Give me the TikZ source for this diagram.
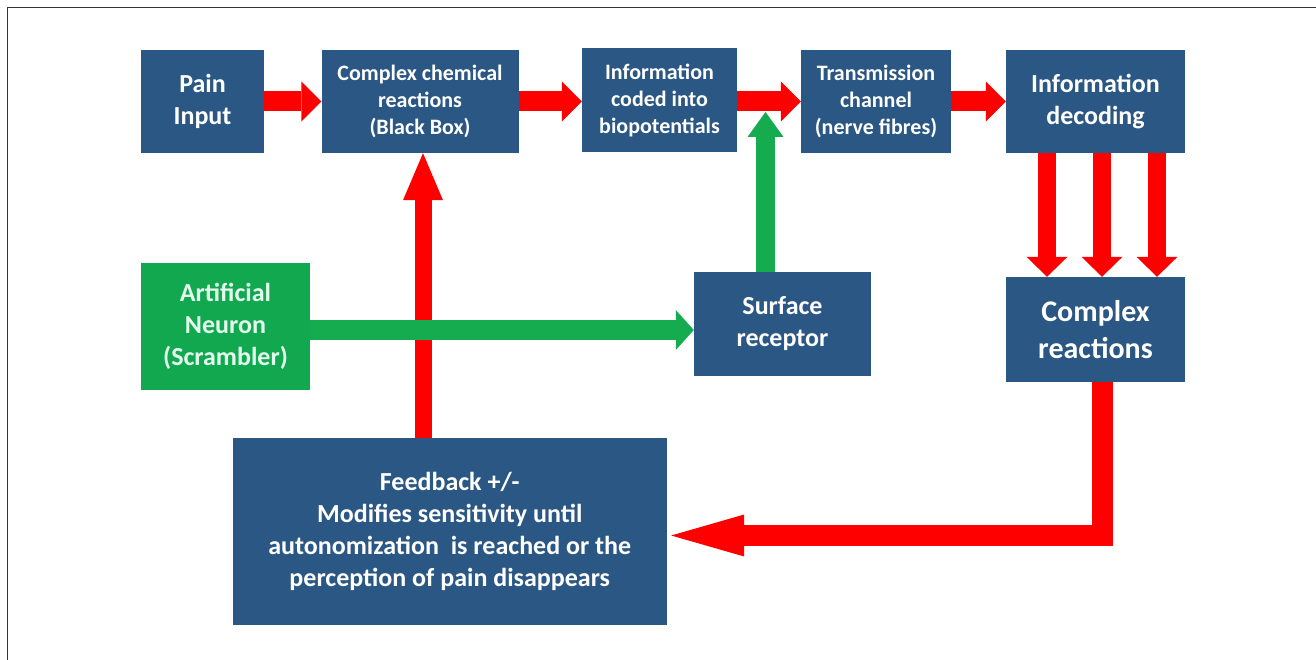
\documentclass[tikz,border=0pt]{standalone}
\usepackage{fontspec}
\setmainfont{Carlito}
\usetikzlibrary{arrows.meta}
\definecolor{boxblue}{RGB}{42,87,131}
\definecolor{boxgreen}{RGB}{18,168,80}
\definecolor{arrgreen}{RGB}{20,172,78}
\definecolor{arrred}{RGB}{255,0,0}
\definecolor{mint}{RGB}{228,252,238}
\definecolor{framegray}{RGB}{50,50,50}
\begin{document}
\begin{tikzpicture}[x=1pt,y=-1pt,
  box/.style={fill=boxblue,text=white,align=center,inner sep=0pt,font=\bfseries\fontsize{26}{32}\selectfont},
  smallbox/.style={box,font=\bfseries\fontsize{22}{27}\selectfont},
  greenbox/.style={box,fill=boxgreen,text=mint},
  redh/.style={draw=arrred,line width=20pt,-{Triangle[length=20pt,width=40pt,line width=0pt]}},
  redv/.style={draw=arrred,line width=18pt,-{Triangle[length=20pt,width=41pt,line width=0pt]}},
  redup/.style={draw=arrred,line width=17pt,-{Triangle[length=47pt,width=40pt,line width=0pt]}},
  redret/.style={draw=arrred,line width=21pt,line join=miter,-{Triangle[length=73pt,width=42pt,line width=0pt]}},
  greenh/.style={draw=arrgreen,line width=20pt,-{Triangle[length=18pt,width=40pt,line width=0pt]}},
  greenv/.style={draw=arrgreen,line width=19pt,-{Triangle[length=25pt,width=36pt,line width=0pt]}},
]
\useasboundingbox (0,0) rectangle (1316,660);
\fill[white] (0,0) rectangle (1316,660);
\draw[framegray,line width=1.5pt] (7.5,660) -- (7.5,7.5) -- (1316,7.5);

% nodes
\node[box,minimum width=123pt,minimum height=103pt] (pain) at (202.5,101.5) {Pain\\Input};
\node[smallbox,minimum width=197pt,minimum height=103pt] (chem) at (420,101.5) {Complex chemical\\reactions\\(Black Box)};
\node[smallbox,minimum width=155pt,minimum height=104pt] (code) at (659.5,100) {Information\\coded into\\biopotentials};
\node[smallbox,minimum width=150pt,minimum height=103pt] (trans) at (876,101.5) {Transmission\\channel\\(nerve fibres)};
\node[box,minimum width=179pt,minimum height=103pt] (dec) at (1095.5,101.5) {Information\\decoding};
\node[box,minimum width=177pt,minimum height=104pt] (sr) at (782.5,324) {Surface\\receptor};
\node[box,font=\bfseries\fontsize{30}{37}\selectfont,minimum width=179pt,minimum height=105pt] (crx) at (1095.5,329.5) {Complex\\reactions};
\node[greenbox,minimum width=169pt,minimum height=127pt] (an) at (225.5,326.5) {Artificial\\Neuron\\(Scrambler)};
\node[box,minimum width=433.5pt,minimum height=187pt] (fb) at (449.75,531.5) {Feedback +/-\\Modifies sensitivity until\\autonomization\ \ is reached or the\\perception of pain disappears};

% helper coordinates
\coordinate (up) at (423,0);
\coordinate (gy) at (0,330);
\coordinate (gt) at (765.5,112);
\coordinate (rx) at (1102,0);
\coordinate (ry) at (0,535.5);
\coordinate (rc) at (1102,535.5);

% top row arrows
\draw[redh] (pain.east) -- (chem.west);
\draw[redh] (chem.east) -- (chem.east -| code.west);
\draw[redh] (code.east |- trans.west) -- (trans.west);
\draw[redh] (trans.east) -- (dec.west);

% decoding to complex reactions
\draw[redv] ([xshift=-48.5pt]dec.south) -- ([xshift=-48.5pt]crx.north);
\draw[redv] ([xshift=6.5pt]dec.south) -- ([xshift=6.5pt]crx.north);
\draw[redv] ([xshift=61.5pt]dec.south) -- ([xshift=61.5pt]crx.north);

% feedback up to black box
\draw[redup] (fb.north -| up) -- (chem.south -| up);

% artificial neuron to surface receptor
\draw[greenh] (an.east |- gy) -- (sr.west |- gy);

% surface receptor up
\draw[greenv] (sr.north -| gt) -- (gt);

% return arrow
\draw[redret] (crx.south -| rx) -- (rc) -- ([xshift=4.5pt]fb.east |- ry);
\end{tikzpicture}
\end{document}
